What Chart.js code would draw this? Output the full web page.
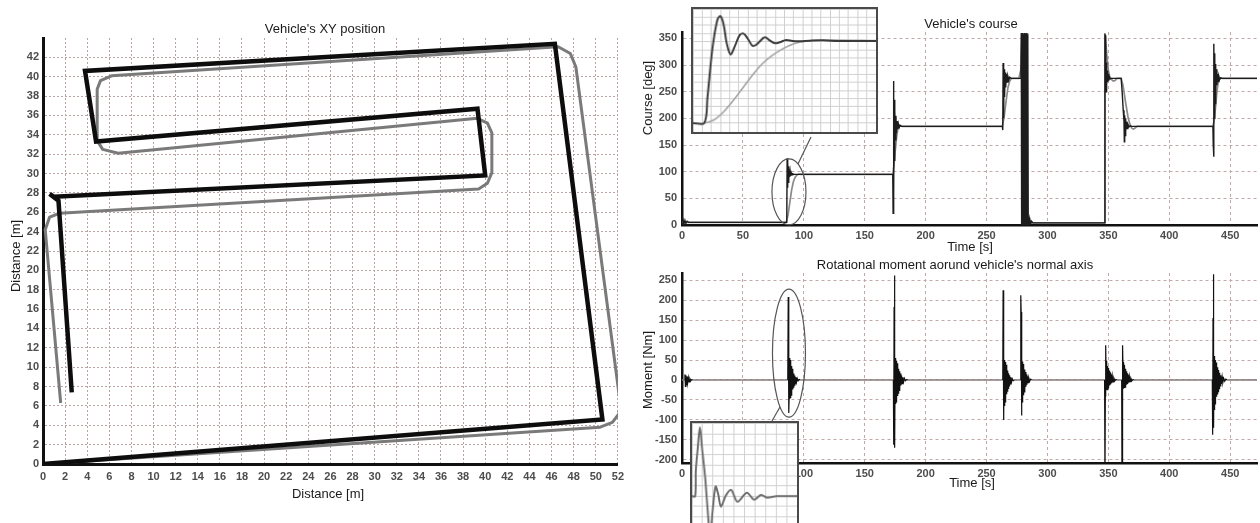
<!DOCTYPE html>
<html><head><meta charset="utf-8">
<script src="https://cdn.jsdelivr.net/npm/chart.js@4.4.1/dist/chart.umd.min.js"></script>
<style>
html,body{margin:0;padding:0;background:#fff;overflow:hidden;width:1260px;height:523px;position:relative}
canvas{position:absolute;display:block}
#cA{left:0;top:0}
#cB{left:630px;top:0}
#cC{left:630px;top:256px}
#iA{left:691px;top:7px;border:2px solid #4a4a4a;background:#fff}
#iB{left:690px;top:421px;border:2px solid #4a4a4a;background:#fff}
</style></head>
<body>
<canvas id="cA" width="630" height="523"></canvas>
<canvas id="cB" width="630" height="256"></canvas>
<canvas id="cC" width="630" height="267"></canvas>
<canvas id="iA" width="187" height="127"></canvas>
<canvas id="iB" width="109" height="140"></canvas>
<script>
// ---------- DATA ----------
// Tick labels
const xyXTicks = [0,2,4,6,8,10,12,14,16,18,20,22,24,26,28,30,32,34,36,38,40,42,44,46,48,50,52];
const xyYTicks = [0,2,4,6,8,10,12,14,16,18,20,22,24,26,28,30,32,34,36,38,40,42];
const timeTicks = [0,50,100,150,200,250,300,350,400,450];
const courseTicks = [0,50,100,150,200,250,300,350];
const momentTicks = [-200,-150,-100,-50,0,50,100,150,200,250];

// XY position (m)
const pathBlackX = [0, 50.6, 46.3, 3.8, 4.8, 39.3, 40.0, 1.0, 0.6, 1.4, 2.6];
const pathBlackY = [0, 4.6, 43.4, 40.6, 33.3, 36.7, 29.8, 27.6, 27.9, 27.2, 7.4];
const pathGrayX = [0, 50.4, 51.5, 52.1, 52.2, 48.2, 47.7, 46.6, 6.2, 5.2, 4.9, 4.9, 5.4, 6.8, 39.3, 40.2, 40.6, 40.6, 40.2, 39.4, 1.5, 0.6, 0.2, 1.6];
const pathGrayY = [0, 3.8, 4.3, 5.2, 6.4, 41.0, 42.4, 43.1, 40.1, 39.6, 38.7, 33.4, 32.5, 32.1, 35.7, 35.2, 34.2, 30.1, 29.0, 28.4, 25.9, 25.5, 24.2, 6.3];

// Vehicle's course (deg) vs time (s)
const courseT = [0,0.8,1.6,2.4,3.2,4.2,5.5,
 86,86.3,86.6,86.9,87.2,87.5,87.8,88.1,88.4,88.8,89.2,89.7,90.3,91,92,
 173,173.3,173.6,173.9,174.2,174.5,174.8,175.2,175.6,176,176.5,177,177.6,178.3,179,180,
 263,263.3,263.6,264,264.4,264.8,265.2,265.7,266.2,266.8,267.5,268.3,269,270,
 277.8,278.2,278.5,278.8,279.1,279.4,279.7,280,280.3,280.6,280.9,281.2,281.5,281.8,282.1,282.4,282.7,283,283.3,283.6,283.9,284.2,284.6,285,285.6,286.3,287,288,
 347,347.2,347.5,347.8,348.1,348.4,348.7,349,349.4,349.8,350.3,350.8,351.5,352.5,
 360.5,361.3,362.2,362.8,363.1,363.4,363.7,364,364.4,364.8,365.3,366,367,368,369,
 435.8,436.1,436.4,436.7,437,437.3,437.6,437.9,438.3,438.7,439.1,439.6,440.1,440.7,441.4,442.2,443,
 472];
const courseMeasured = [0,10,2,9,3,7,5,
 5,125,70,118,80,110,86,104,90,100,92,98,94,96,95,
 95,22,270,60,235,120,215,160,205,172,195,180,190,183,187,185,
 185,178,304,200,292,240,286,258,283,268,279,272,277,275,
 275,310,360,0,360,2,360,0,358,3,360,0,360,1,359,0,360,2,358,0,350,0,14,2,10,3,7,4,
 4,358,300,356,250,305,262,290,268,283,271,278,274,275,
 275,250,215,196,156,206,168,200,176,194,181,189,184,186,185,
 185,150,128,340,200,322,228,302,248,292,262,283,269,279,273,276,275,
 275];
const refT = [0,85.5,87,88.5,90,91.5,93,94.5,96,98,
 173,174,175,176,177,178,179.5,181,
 263,264.5,266,267.5,269,270.5,
 276.5,278,280,282,283.6,283.7,285,
 347,347.1,348,349,350,351,352.5,354,355.5,357,
 360.5,362,364,366,367.5,369,370.5,372,373.5,
 435.8,437,438,439,440,441,442,443.5,472];
const courseReference = [5,5,18,42,66,82,90,94,95.5,95,
 95,112,138,162,178,184,186,185,
 185,204,232,257,270,275,
 275,290,315,340,360,0,4,
 4,360,338,312,290,279,273,270,271,275,
 275,262,232,204,190,182,180,182,185,
 185,198,222,248,265,273,276,275,275];

// Rotational moment (Nm) vs time (s)
const momentT = [0,2,2.4,2.8,3.2,3.6,4.1,4.6,5.2,5.8,6.5,7.2,8,9,
 86.8,87.2,87.5,87.8,88.1,88.35,88.6,88.85,89.1,89.35,89.6,89.9,90.2,90.5,90.8,91.1,91.45,91.8,92.2,92.6,93.0,93.5,94.0,94.6,95.3,96.2,97,
 173.5,173.8,174.1,174.4,174.7,175,175.25,175.5,175.75,176,176.3,176.6,176.9,177.2,177.5,177.85,178.2,178.55,178.9,179.3,179.7,180.2,180.7,181.3,181.9,182.6,183.4,184.4,185.5,
 263.3,263.6,263.9,264.2,264.5,264.75,265,265.25,265.5,265.8,266.1,266.4,266.7,267,267.35,267.7,268.1,268.5,268.9,269.4,269.9,270.5,271.1,271.9,273,
 277.8,278.1,278.4,278.7,279,279.25,279.5,279.75,280,280.3,280.6,280.9,281.2,281.55,281.9,282.3,282.7,283.1,283.6,284.1,284.7,285.4,286.2,287.2,
 346.9,347.2,347.5,347.8,348.1,348.35,348.6,348.85,349.1,349.4,349.7,350,350.3,350.65,351,351.4,351.8,352.2,352.7,353.2,353.8,354.5,355.3,356.2,357,
 360.9,361.2,361.5,361.8,362.1,362.35,362.6,362.85,363.1,363.4,363.7,364,364.3,364.65,365,365.4,365.8,366.2,366.7,367.2,367.8,368.5,369.3,370.2,371,
 435.3,435.6,435.9,436.2,436.5,436.8,437.05,437.3,437.55,437.8,438.1,438.4,438.7,439,439.35,439.7,440.05,440.45,440.85,441.3,441.75,442.25,442.8,443.4,444,444.7,445.5,446.4,447.5,
 472];
const momentV = [0,0,14,-16,12,-12,9,-8,6,-5,3,-2,1,0,
 0,208,150,-83,-20,55,-48,50,-45,42,-38,35,-30,28,-24,22,-18,16,-13,11,-9,7,-5,4,-2,1,0,
 0,-162,183,262,-170,55,-60,52,-55,48,-50,42,-40,35,-33,28,-26,22,-20,16,-14,11,-9,7,-5,4,-2,1,0,
 0,225,200,-100,50,-65,48,-55,45,-45,38,-36,30,-28,24,-21,17,-15,12,-10,7,-5,3,-2,0,
 0,212,170,-89,50,-55,46,-45,40,-38,33,-30,26,-24,20,-17,14,-12,9,-7,5,-3,2,0,
 0,-260,-40,87,20,48,-25,40,-24,35,-20,30,-17,24,-14,19,-11,14,-8,10,-5,5,-2,1,0,
 0,-260,-30,87,15,45,-22,38,-20,33,-18,28,-15,22,-12,17,-10,13,-7,9,-4,4,-2,1,0,
 0,-137,155,265,-120,60,-75,55,-60,50,-50,44,-42,38,-35,32,-29,25,-22,18,-15,12,-10,8,-6,4,-3,2,0,
 0];

// Inset: course step response (normalised)
const insetCourseT = [0,6.14,7.89,10.53,13.16,14.91,16.67,18.42,20.53,22.81,25.44,27.54,29.82,32.46,34.21,36.32,38.6,39.82,42.1,44.74,47.37,50.88,54.39,57.89,64.04,71.05,79.82,100];
const insetCourseMeas = [0,0,0.314,0.902,1.255,1.314,1.216,0.98,0.843,0.941,1.078,1.098,1.039,0.949,0.957,1.0,1.047,1.051,1.012,0.98,0.992,1.02,1.008,1.004,1.012,1.016,1.008,1.008];
const insetRefT = [0,6.14,11.4,16.67,21.93,27.19,32.46,37.72,42.98,48.25,53.51,58.77,64.04,76.32,100];
const insetRefV = [0,0,0.039,0.137,0.275,0.431,0.588,0.725,0.824,0.902,0.961,0.996,1.012,1.02,1.012];
// Inset: moment response (normalised)
const insetMomT = [0,3.0,3.6,5.4,7.5,9.6,12.5,14.9,17.3,19.4,22.4,24.8,27.5,32.2,37.3,43.3,52.2,59.1,65.7,71.6,80.6,100];
const insetMomV = [0,0,0.37,0.69,1.0,0.69,0.27,-0.2,-0.6,-0.25,0.14,0.04,-0.15,0.01,0.09,-0.08,0.05,-0.05,0.02,-0.02,0,0];

// ---------- HELPERS ----------
const pts = (xs, ys) => xs.map((x, i) => ({x, y: ys[i]}));
const FAM = "'Liberation Sans', Arial, sans-serif";
Chart.defaults.font.family = FAM;
const tickFont = {family: FAM, size: 11, weight: 'bold'};
const tickColor = '#4d4d4d';
const setTicks = arr => s => { s.ticks = arr.map(v => ({value: v})); };

const textPlugin = {
  id: 'texts',
  afterDraw(chart, args, opts) {
    const ctx = chart.ctx;
    (opts.items || []).forEach(it => {
      ctx.save();
      ctx.font = `${it.size || 13}px ${FAM}`;
      ctx.fillStyle = '#1a1a1a';
      ctx.textAlign = 'center';
      ctx.textBaseline = 'middle';
      ctx.translate(it.x, it.y);
      if (it.rot) ctx.rotate(it.rot);
      ctx.fillText(it.text, 0, 0);
      ctx.restore();
    });
  }
};
const ellipsePlugin = {
  id: 'ellipses',
  afterDatasetsDraw(chart, args, opts) {
    const {ctx, scales: {x, y}} = chart;
    (opts.items || []).forEach(e => {
      const cx = x.getPixelForValue(e.t), cy = y.getPixelForValue(e.v);
      ctx.save();
      ctx.strokeStyle = '#555'; ctx.lineWidth = 1.2;
      ctx.beginPath(); ctx.ellipse(cx, cy, e.rx, e.ry, 0, 0, Math.PI * 2); ctx.stroke();
      ctx.beginPath(); ctx.moveTo(cx + e.from[0], cy + e.from[1]); ctx.lineTo(e.to[0], e.to[1]); ctx.stroke();
      ctx.restore();
    });
  }
};

const gridCol = '#c2a9a9';
function timeAxes(yMin, yMax, yTicks, xHeight) {
  return {
    x: {type: 'linear', min: 0, max: 472,
      afterFit: s => { s.height = xHeight; },
      afterBuildTicks: setTicks(timeTicks),
      ticks: {autoSkip: false, maxRotation: 0, font: tickFont, color: tickColor, padding: 4},
      grid: {color: gridCol, lineWidth: 1, drawTicks: false},
      border: {display: true, color: '#111', width: 2.5, dash: [3, 3]}},
    y: {type: 'linear', min: yMin, max: yMax,
      afterFit: s => { s.width = 52; },
      afterBuildTicks: setTicks(yTicks),
      ticks: {autoSkip: false, font: tickFont, color: tickColor, padding: 5},
      grid: {color: gridCol, lineWidth: 1, drawTicks: false},
      border: {display: true, color: '#111', width: 2.5, dash: [3, 3]}}
  };
}

// ---------- CHART A: XY position ----------
new Chart(document.getElementById('cA'), {
  type: 'scatter',
  data: {datasets: [
    {data: pts(pathBlackX, pathBlackY), showLine: true, borderColor: '#0d0d0d', borderWidth: 4.5, pointRadius: 0, borderJoinStyle: 'miter', fill: false},
    {data: pts(pathGrayX, pathGrayY), showLine: true, borderColor: '#7a7a7a', borderWidth: 3, pointRadius: 0, borderJoinStyle: 'round', fill: false}
  ]},
  options: {
    responsive: false, animation: false, devicePixelRatio: 1,
    layout: {padding: {left: 0, top: 38, right: 12, bottom: 0}},
    plugins: {legend: {display: false}, tooltip: {enabled: false},
      texts: {items: [
        {text: "Vehicle's XY position", x: 325, y: 29},
        {text: 'Distance [m]', x: 328, y: 494},
        {text: 'Distance [m]', x: 16, y: 256, rot: -Math.PI / 2}
      ]}},
    scales: {
      x: {type: 'linear', min: 0, max: 52,
        afterFit: s => { s.height = 59; },
        afterBuildTicks: setTicks(xyXTicks),
        ticks: {autoSkip: false, maxRotation: 0, font: tickFont, color: tickColor, padding: 6},
        grid: {color: '#b9a3a3', lineWidth: 1, drawTicks: false},
        border: {display: true, color: '#111', width: 3, dash: [2, 2]}},
      y: {type: 'linear', min: 0, max: 44,
        afterFit: s => { s.width = 43; },
        afterBuildTicks: setTicks(xyYTicks),
        ticks: {autoSkip: false, font: tickFont, color: tickColor, padding: 4},
        grid: {color: '#b9a3a3', lineWidth: 1, drawTicks: false},
        border: {display: true, color: '#111', width: 3, dash: [2, 2]}}
    }
  },
  plugins: [textPlugin]
});

// ---------- CHART B: course ----------
new Chart(document.getElementById('cB'), {
  type: 'scatter',
  data: {datasets: [
    {data: pts(courseT, courseMeasured), showLine: true, borderColor: '#1c1c1c', borderWidth: 1.4, pointRadius: 0, fill: false},
    {data: pts(refT, courseReference), showLine: true, borderColor: '#8a8a8a', borderWidth: 1.7, pointRadius: 0, fill: false}
  ]},
  options: {
    responsive: false, animation: false, devicePixelRatio: 1,
    layout: {padding: {left: 0, top: 32, right: 3, bottom: 0}},
    plugins: {legend: {display: false}, tooltip: {enabled: false},
      texts: {items: [
        {text: "Vehicle's course", x: 341, y: 24},
        {text: 'Time [s]', x: 340, y: 247},
        {text: 'Course [deg]', x: 18, y: 98, rot: -Math.PI / 2}
      ]},
      ellipses: {items: [{t: 87.8, v: 62, rx: 17, ry: 33, from: [9, -28], to: [181, 137]}]}},
    scales: timeAxes(0, 362, courseTicks, 31)
  },
  plugins: [textPlugin, ellipsePlugin]
});

// ---------- CHART C: moment ----------
new Chart(document.getElementById('cC'), {
  type: 'scatter',
  data: {datasets: [
    {data: pts(momentT, momentV), showLine: true, borderWidth: 1.2, pointRadius: 0, fill: false, borderColor: '#111',
      segment: {borderColor: c => (c.p0.parsed.y === 0 && c.p1.parsed.y === 0) ? '#877c7c' : '#111',
                borderWidth: c => (c.p0.parsed.y === 0 && c.p1.parsed.y === 0) ? 1.6 : 1.2}}
  ]},
  options: {
    responsive: false, animation: false, devicePixelRatio: 1,
    layout: {padding: {left: 0, top: 17, right: 3, bottom: 0}},
    plugins: {legend: {display: false}, tooltip: {enabled: false},
      texts: {items: [
        {text: "Rotational moment aorund vehicle's normal axis", x: 325, y: 9},
        {text: 'Time [s]', x: 342, y: 227},
        {text: 'Moment [Nm]', x: 18, y: 114, rot: -Math.PI / 2}
      ]},
      ellipses: {items: [{t: 87.8, v: 67.5, rx: 16.5, ry: 64, from: [-9, 54], to: [142, 165]}]}},
    scales: timeAxes(-208, 268, momentTicks, 60)
  },
  plugins: [textPlugin, ellipsePlugin]
});

// ---------- INSETS ----------
function insetScales(xStep, yMin, yMax, yStep) {
  const g = {color: '#cfcfcf', lineWidth: 1, drawTicks: false};
  return {
    x: {type: 'linear', min: 0, max: 100, ticks: {display: false, stepSize: xStep}, grid: g, border: {display: false}},
    y: {type: 'linear', min: yMin, max: yMax, ticks: {display: false, stepSize: yStep}, grid: g, border: {display: false}}
  };
}
new Chart(document.getElementById('iA'), {
  type: 'scatter',
  data: {datasets: [
    {data: pts(insetCourseT, insetCourseMeas), showLine: true, borderColor: '#3a3a3a', borderWidth: 2, pointRadius: 0, tension: 0.35},
    {data: pts(insetRefT, insetRefV), showLine: true, borderColor: '#a0a0a0', borderWidth: 1.6, pointRadius: 0, tension: 0.35}
  ]},
  options: {responsive: false, animation: false, devicePixelRatio: 1,
    layout: {padding: 0},
    plugins: {legend: {display: false}, tooltip: {enabled: false}},
    scales: insetScales(5, -0.11, 1.40, 0.1)}
});
new Chart(document.getElementById('iB'), {
  type: 'scatter',
  data: {datasets: [
    {data: pts(insetMomT, insetMomV), showLine: true, borderColor: '#6a6a6a', borderWidth: 2, pointRadius: 0, tension: 0.3}
  ]},
  options: {responsive: false, animation: false, devicePixelRatio: 1,
    layout: {padding: 0},
    plugins: {legend: {display: false}, tooltip: {enabled: false}},
    scales: insetScales(10, -0.91, 1.06, 0.15)}
});
</script>
</body></html>
